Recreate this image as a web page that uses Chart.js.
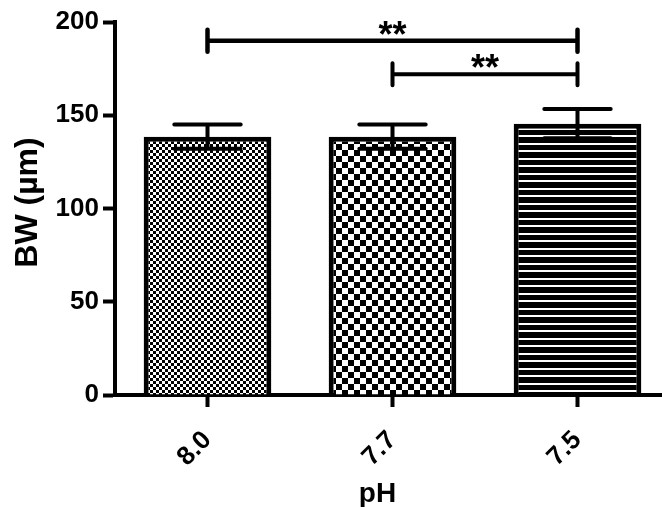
<!DOCTYPE html>
<html>
<head>
<meta charset="utf-8">
<script src="https://cdn.jsdelivr.net/npm/chart.js@4/dist/chart.umd.min.js"></script>
<style>
  html, body { margin: 0; padding: 0; background: #fff; overflow: hidden; }
  #wrap { width: 680px; height: 507px; }
</style>
</head>
<body>
<div id="wrap"><canvas id="chart"></canvas></div>
<script>
// values
const categories = ['8.0', '7.7', '7.5'];
const means = [138.5, 138.5, 145.5];
const errors = [6.5, 6.5, 7.8];
const yTickValues = [0, 50, 100, 150, 200];

// significance brackets
const sigFrom = [0, 1];
const sigTo = [2, 2];
const sigLevels = [190, 172];
const sigMarks = ['**', '**'];

const FONT = "'Liberation Sans', Arial, sans-serif";

function makePattern(kind) {
    const c = document.createElement('canvas');
    const g = c.getContext('2d');
    if (kind === 'fine') {
        c.width = 6; c.height = 6;
        g.fillStyle = '#fff'; g.fillRect(0, 0, 6, 6);
        g.fillStyle = '#000';
        g.fillRect(0, 0, 3, 3);
        g.fillRect(3, 3, 3, 3);
    } else if (kind === 'coarse') {
        c.width = 12; c.height = 12;
        g.fillStyle = '#fff'; g.fillRect(0, 0, 12, 12);
        g.fillStyle = '#000';
        g.fillRect(0, 0, 6, 6);
        g.fillRect(6, 6, 6, 6);
    } else {
        c.width = 4; c.height = 15;
        g.fillStyle = '#000'; g.fillRect(0, 0, 4, 15);
        g.fillStyle = '#fff';
        g.fillRect(0, 0, 4, 2);
        g.fillRect(0, 8, 4, 2);
    }
    return g.createPattern(c, 'repeat');
}

const errorBars = {
    id: 'errorBars',
    afterDatasetsDraw(chart) {
        const ctx = chart.ctx;
        const y = chart.scales.y;
        const meta = chart.getDatasetMeta(0);
        ctx.save();
        ctx.strokeStyle = '#000';
        ctx.lineWidth = 4;
        ctx.lineCap = 'round';
        meta.data.forEach((bar, i) => {
            const hi = y.getPixelForValue(means[i] + errors[i]);
            const lo = y.getPixelForValue(means[i] - errors[i]);
            const half = bar.width * 0.26;
            ctx.beginPath();
            ctx.moveTo(bar.x, hi); ctx.lineTo(bar.x, lo);
            ctx.moveTo(bar.x - half, hi); ctx.lineTo(bar.x + half, hi);
            ctx.moveTo(bar.x - half, lo); ctx.lineTo(bar.x + half, lo);
            ctx.stroke();
        });
        ctx.restore();
    }
};

const sigBrackets = {
    id: 'sigBrackets',
    afterDraw(chart) {
        const ctx = chart.ctx;
        const x = chart.scales.x;
        const y = chart.scales.y;
        ctx.save();
        ctx.strokeStyle = '#000';
        ctx.fillStyle = '#000';
        ctx.lineCap = 'round';
        sigLevels.forEach((lvl, i) => {
            const x1 = x.getPixelForValue(sigFrom[i]);
            const x2 = x.getPixelForValue(sigTo[i]);
            const py = y.getPixelForValue(lvl);
            ctx.lineWidth = i === 0 ? 4.5 : 4;
            ctx.beginPath();
            ctx.moveTo(x1, py); ctx.lineTo(x2, py);
            ctx.moveTo(x1, py - 11); ctx.lineTo(x1, py + 11);
            ctx.moveTo(x2, py - 11); ctx.lineTo(x2, py + 11);
            ctx.stroke();
            ctx.font = 'bold 36px ' + FONT;
            ctx.textAlign = 'center';
            ctx.textBaseline = 'alphabetic';
            ctx.fillText(sigMarks[i], (x1 + x2) / 2, py + 6);
        });
        ctx.restore();
    }
};

const axisTitles = {
    id: 'axisTitles',
    afterDraw(chart) {
        const ctx = chart.ctx;
        const area = chart.chartArea;
        const x = chart.scales.x;
        ctx.save();
        ctx.fillStyle = '#000';
        ctx.textAlign = 'center';
        ctx.textBaseline = 'alphabetic';
        ctx.font = 'bold 28px ' + FONT;
        ctx.fillText('pH', x.getPixelForValue(1) - 15, 502);
        ctx.translate(37, (area.top + area.bottom) / 2 - 6);
        ctx.rotate(-Math.PI / 2);
        ctx.font = 'bold 32px ' + FONT;
        ctx.fillText('BW (µm)', 0, 0);
        ctx.restore();
    }
};

const ctx = document.getElementById('chart').getContext('2d');
new Chart(ctx, {
    type: 'bar',
    data: {
        labels: categories,
        datasets: [{
            data: means,
            backgroundColor: [makePattern('fine'), makePattern('coarse'), makePattern('stripes')],
            borderColor: '#000',
            borderWidth: 5,
            categoryPercentage: 1,
            barPercentage: 0.69
        }]
    },
    options: {
        responsive: true,
        maintainAspectRatio: false,
        animation: false,
        layout: { padding: { top: 22, right: 10, left: 0, bottom: 0 } },
        plugins: {
            legend: { display: false },
            tooltip: { enabled: false }
        },
        scales: {
            x: {
                afterFit(scale) { scale.height = 112; },
                grid: { drawOnChartArea: false, offset: false, tickLength: 12, tickWidth: 4, tickColor: '#000' },
                border: { color: '#000', width: 4 },
                ticks: {
                    color: '#000',
                    font: { family: FONT, size: 26, weight: 'bold' },
                    minRotation: 45,
                    maxRotation: 45,
                    padding: 18
                }
            },
            y: {
                min: 0,
                max: 200,
                afterFit(scale) { scale.width = 115; },
                afterBuildTicks(scale) { scale.ticks = yTickValues.map(v => ({ value: v })); },
                grid: { drawOnChartArea: false, tickLength: 12, tickWidth: 4, tickColor: '#000' },
                border: { color: '#000', width: 4 },
                ticks: {
                    color: '#000',
                    font: { family: FONT, size: 26, weight: 'bold' },
                    padding: 4
                }
            }
        }
    },
    plugins: [errorBars, sigBrackets, axisTitles]
});
</script>
</body>
</html>
